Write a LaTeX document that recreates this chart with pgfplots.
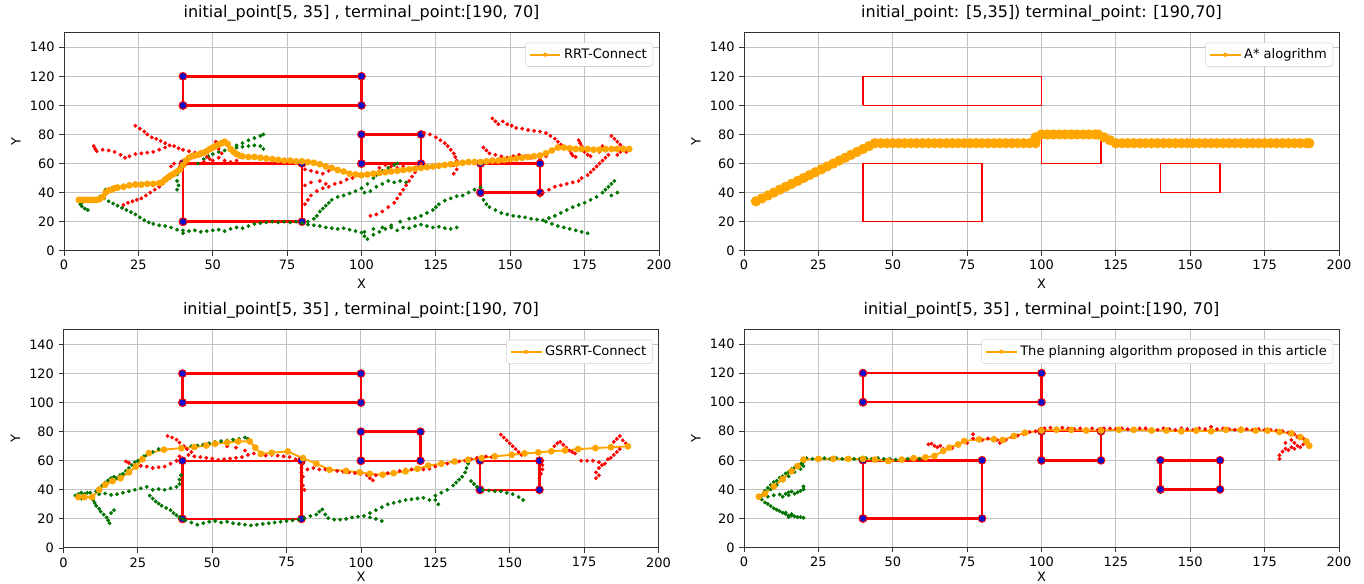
\documentclass[border=0pt]{standalone}
\usepackage{fontspec}
\setmainfont{DejaVu Sans}
\usepackage{pgfplots}
\pgfplotsset{compat=1.18}
\definecolor{mporange}{rgb}{1,0.647,0}
\definecolor{mpgreen}{rgb}{0,0.45,0}
\definecolor{mpblue}{rgb}{0.05,0.05,0.8}
\definecolor{gridgray}{rgb}{0.76,0.76,0.76}
\pgfplotsset{
 panel/.style={
  scale only axis, width=446.25pt, height=163.5pt,
  anchor=south west,
  xmin=0,xmax=200,ymin=0,ymax=150,
  xtick={0,25,...,200}, ytick={0,20,...,140},
  tick pos=left, tick align=outside,
  major tick length=3.6pt,
  tick style={black!80, line width=0.6pt},
  grid=major, major grid style={gridgray, line width=0.75pt},
  axis line style={black!80, line width=0.75pt},
  tick label style={font=\fontsize{9.7}{11}\selectfont},
  label style={font=\fontsize{9.7}{11}\selectfont},
  xlabel=X, ylabel=Y,
  title style={font=\fontsize{12}{14}\selectfont, yshift=-1pt},
  /pgf/number format/assume math mode=true,
  legend style={at={(0.99,0.955)}, anchor=north east, draw=gray!35, rounded corners=2pt, fill=white, font=\fontsize{9.8}{11}\selectfont, inner sep=2.5pt},
  legend cell align=left,
  legend image code/.code={\draw[mporange, line width=1.4pt, mark=none] (0pt,0pt) -- (23pt,0pt); \path[fill=mporange, draw=none] (11.5pt,0pt) circle[radius=1.6pt];},
 },
 bottomrow/.style={xlabel style={yshift=3pt}},
 obst/.style={red, line width=1.8pt, mark=*, mark size=2.9pt, mark options={fill=mpblue, draw=red, line width=0.7pt}, forget plot},
 obstA/.style={red, line width=1.1pt, forget plot},
 rdots/.style={only marks, mark=*, mark size=1.25pt, red, forget plot},
 gdots/.style={only marks, mark=*, mark size=1.25pt, mpgreen, forget plot},
}
\newcommand{\obstacles}{%
 \addplot[obst] coordinates {(40,100)(100,100)(100,120)(40,120)(40,100)};
 \addplot[obst] coordinates {(40,20)(80,20)(80,60)(40,60)(40,20)};
 \addplot[obst] coordinates {(100,60)(120,60)(120,80)(100,80)(100,60)};
 \addplot[obst] coordinates {(140,40)(160,40)(160,60)(140,60)(140,40)};
}
\begin{document}
\begin{tikzpicture}
\path (0,0);
% ---------------- top-left: RRT-Connect
\begin{axis}[panel, at={(48pt,249.2pt)}, title={initial\_point[5, 35] , terminal\_point:[190, 70]}]
\obstacles
\addplot[gdots] coordinates {
(5,34)(5.5,32)(6,30.5)(7,29)(8,28)(6,33)
(12,37)(13.5,36)(15,34)(16.5,32.5)(18,31)(19.5,29.5)(21,28)(22.5,26.5)(24,25)(25.5,23)(27,21)(28.5,19.5)(30,18.5)(32,17.5)(34,17)(36,16)(38,14.5)(40,12)(40,14)(42,13.5)(44,14)(46,13)(48,13.5)(50,14)(52,14.5)(54,13.5)(56,15)(58,16)(60,15.5)(62,17)(64,18.5)(66,19)(68,19.5)(70,20)(72,19.5)(74,20)(76,19.5)(78,20)(80,19)(82,18)(84,17.5)(86,17)(88,16)(90,15.5)(92,15)(94,15.5)(96,14.5)(98,13.5)(100,12.5)(101,10)(102,8)(104,11)(106,13)(108,15)(110,16)(112,14)(114,16)(116,15.5)(118,17)(120,18)(122,17)(124,16)(126,16.5)(128,15.5)(130,15)(132,16)
(14,42)(16,43)(18,44)(20,45)(22,45.5)(24,46.5)(26,46)(28,46)(30,46)(32,47)(34,49)(36,51)(38,52.5)(38,48)(38.5,45)(38,42)
(45,60)(47,63)(48.5,65)(50,66.5)(52,68)(54,69)(56,70.5)(58,72.5)(60,74)(62,76)(64,77.5)(66,79)(67,80)(58,71)(60,71.5)(62,72)(64,72.5)(66,72)(67,70)
(82,20)(84,22)(85,24)(86,27)(87,29)(88,31)(89,33)(90,35)(92,37)(94,38)(96,39.5)(98,41)(100,43)(102,46)(104,50)(105,52)(107,55)(109,57)(111,59)(112,60)(101,40)(103,41)(105,44)(107,46)(109,48)(111,47)(113,48)(115,47)
(101,13)(104,15)(107,16)(110,17.5)(113,20)(116,22)(118,22.5)(120,24)(122,26)(124,28)(125,30)(126,32)(128,34.5)(130,36)(132,37.5)(134,38)(136,40)(138,42)(140,43.5)
(141,35)(142,32)(143,30)(145,28)(147,26)(149,25)(151,24)(153,23.5)(155,23)(157,22)(159,21.5)(161,21)(163,22.5)(165,24)(167,26)(169,28)(171,30)(173,31.5)(175,33)(177,35)(179,37)(181,40)(182,42)(183,44)(184,46)(185,48)(186,40)(184,38)
(162,20)(164,18.5)(166,17)(168,16)(170,15)(172,14)(174,13)(176,12)
};
\addplot[rdots] coordinates {
(24,86)(25.5,84)(27,82)(28,80)(29.5,78)(31,77)(32.5,75.5)(34,74)(35.5,72.5)(37,72)(38.5,70.5)(40,69.5)(42,68.5)(44,67.5)(46,66)(48,64.5)(49,63)
(47,61)(50,62)(52,64)(54,62)(56,61)(58,62)(51,75)(52,73)(52,70)(53,67)
(10,72)(10.5,70)(11,68.5)(13,69.5)(15,69)(17,68)(19,66)(20.5,64)(22,65)(24,66.5)(26,67)(28,67.5)(30,68)(32,69.5)(34,71)
(39,58)(38,55)(37,53)(35.5,51)(34,48)(33,46)(32,44)(30.5,42)(29,40)(27.5,38)(26,36)(24.5,35)(23,34)(21.5,33)(20,31.5)(36,58)(37,60)
(81,32)(82,35)(83,38)(85,41)(87,43)(89,44)(91,46)(93,47)(95,49)(97,50)(99,52)(81,45)(83,47)(86,48)(88,46)
(81,56)(83,55)(85,54)(87,53)(89,55)
(120,60)(119,57)(118,54)(117,51)(116,48)(115,45)(114,42)(113,39)(112,36)(111,33)(109,30)(107,27)(105,25)(103,24)
(106,57)(108,59)(110,58)(112,57)(114,58)
(121,81)(123,80)(125,78)(126.5,76)(128,74)(129,72)(130,69.5)(131,67)(131.5,64.5)(132,62)(131,59)(132,56)(131,53)
(144,91)(145,89)(146,87)(147.5,89)(149,87)(150.5,86)(152,84.5)(154,84)(156,83)(158,82.5)(160,82)(162,81)(163.5,79)(165,77)(166,75)(167,73)(168.5,71)(170,69)(170.5,67)(171,65.5)(172,64.5)
(173,76)(173.5,74)(174,72)(174.5,70)(175,68)(176,66)(177,65)
(141,71)(142,69)(143,67)(145,66)(147,65)(149,64)(151,65)(153,66)(155,65)(157,64)(158,66)(160,63)(162,65)
(183,66)(182,64)(181,62)(180,60)(179,58)(178,56)(177,54)(176,52)(174,50)(173,48)(171,47)(169,46)(167,45)(165,44)(163,42)(161,40)(160,38)
(184,79)(185,77)(186,75)(187,73)(188,71)(187,68)(186,66)(189,68)(185,70)(178,70)(180,68)(182,69)(181,72)
};
\addplot[mporange, line width=1.6pt, mark=*, mark size=1.7pt] coordinates {
(5,35)(6,35)(7,35)(8,35)(9,35)(10,35)(11,35)(12,35.5)(13,37)(14,40)(15,41.5)(16,42)(17,43)(18,43.5)(20,44)(22,45)(24,45.5)(26,45.5)(28,46)(30,46)(32,46.5)(33,47)(34,49)(35,50.5)(36,52)(37,53)(38,54.5)(39,56)(40,59)(41,62)(42,64)(43,65)(44,65.5)(45,66)(46,67)(47,67.5)(48,68.5)(49,70)(50,71)(51,72)(52,73)(53,74)(54,75)(55,73.5)(56,70)(57,68)(58,66.5)(59,65.5)(60,65)(62,64.5)(64,64.5)(66,64)(68,63.5)(70,63)(72,62.5)(74,62)(76,62)(78,61.5)(80,61.5)(82,61)(84,60.5)(86,59.5)(88,58)(90,57)(92,55.5)(94,54.5)(96,53)(98,52.5)(100,52)(102,52.5)(104,53)(106,53.5)(108,54)(110,54.5)(112,55)(114,55.5)(116,56)(118,56.5)(120,57)(122,57.5)(124,58)(126,58.5)(128,59)(130,59.5)(132,60)(134,60.5)(136,61)(138,61)(140,61)(142,61.5)(144,62)(146,62)(148,62.5)(150,63)(152,63.5)(154,64)(156,64.5)(158,65)(160,65.5)(162,67)(164,69)(166,71)(168,71)(170,70.5)(172,70)(174,70)(176,70)(178,69.5)(180,69.5)(182,70)(184,70)(186,70)(188,70)(190,70)
};
\addlegendentry{RRT-Connect}
\end{axis}
% ---------------- top-right: A*
\begin{axis}[panel, at={(558pt,249.2pt)}, title={initial\_point: [5,35]) terminal\_point: [190,70]}]
\addplot[obstA] coordinates {(40,100)(100,100)(100,120)(40,120)(40,100)};
\addplot[obstA] coordinates {(40,20)(80,20)(80,60)(40,60)(40,20)};
\addplot[obstA] coordinates {(100,60)(120,60)(120,80)(100,80)(100,60)};
\addplot[obstA] coordinates {(140,40)(160,40)(160,60)(140,60)(140,40)};
\addplot[mporange, line width=4pt, mark=*, mark size=1.7pt] coordinates {
(4,34)(6,36)(8,38)(10,40)(12,42)(14,44)(16,46)(18,48)(20,50)(22,52)(24,54)(26,56)(28,58)(30,60)(32,62)(34,64)(36,66)(38,68)(40,70)(42,72)(44,74)
(46,74)(48,74)(50,74)(52,74)(54,74)(56,74)(58,74)(60,74)(62,74)(64,74)(66,74)(68,74)(70,74)(72,74)(74,74)(76,74)(78,74)(80,74)(82,74)(84,74)(86,74)(88,74)(90,74)(92,74)(94,74)(96,74)(98,74)
(98,76)(98,78)(100,80)(102,80)(104,80)(106,80)(108,80)(110,80)(112,80)(114,80)(116,80)(118,80)(119,80)(121,78)(123,76)(125,74)
(127,74)(129,74)(131,74)(133,74)(135,74)(137,74)(139,74)(141,74)(143,74)(145,74)(147,74)(149,74)(151,74)(153,74)(155,74)(157,74)(159,74)(161,74)(163,74)(165,74)(167,74)(169,74)(171,74)(173,74)(175,74)(177,74)(179,74)(181,74)(183,74)(185,74)(187,74)(189,74)(190,74)
};
\addlegendentry{A* alogrithm}
\end{axis}
% ---------------- bottom-left: GSRRT-Connect
\begin{axis}[panel, bottomrow, at={(47.6pt,26.3pt)}, title={initial\_point[5, 35] , terminal\_point:[190, 70]}]
\obstacles
\addplot[gdots] coordinates {
(4,36)(5,37)(6,38)(7,37)(8,38)(9,38)(6,34)
(10,33)(10.5,31)(11,29)(12,27)(12.5,25)(13.5,23)(14.5,21)(15,19)(15.5,17)(16,24)(17,26)
(11,39)(12,41)(13,43)(14,45)(15,46.5)(16,48)(17,49)(18,48)(19,50)(20,51)(21,53)(22,55)(23,57)(24,59)(25,60)(26,61)(27,63)(28,64)(30,66)(32,68)
(12,37)(14,37.5)(16,36.5)(18,37)(20,38)(22,39)(24,40)(26,41)(28,42)
(30,40)(32,40.5)(34,40)(36,41)(38,42)(39,44)(39,47)(39.5,50)
(29,36)(30,34)(31,32)(32,30.5)(33,29)(34.5,27.5)(36,26)(37,24)(38,22.5)(39,21)(40,20)
(41,19)(43,17.5)(45,16)(47,17)(49,18)(51,18.5)(53,17.5)(55,18)(57,17)(59,16.5)(61,16)(63,15.5)(65,16)(67,16.5)(69,17)(71,17.5)(73,18)(75,18.5)(77,19)(79,19.5)(81,20.5)(83,22)(85,23)(86,25)(87,26.5)(88,23)(89,20.5)(91,19.5)(93,19.5)(95,20)(97,21)(99,21.5)(101,22)(103,21)(105,20)(107,18.5)
(103,24)(105,26)(107,28)(109,30)(111,31)(113,32)(115,33)(117,33.5)(119,34)(121,34.5)(123,33)(125,33)(126,30)(125,36)(127,38)(129,40)(131,43)(132,45)(133,47)(134,49)(135,52)(135.5,55)(136,58)(136.5,60)
(137,46)(138,44)(139,42)(141,40)(143,39.5)(145,39)(147,39)(149,38)(151,37)(153,35)(154.5,33)
(43,70)(45,70.5)(47,71)(49,72)(51,73)(53,73.5)(55,74)(57,74.5)(59,75)(61,76)(62,75)
};
\addplot[rdots] coordinates {
(35,77)(36.5,76)(38,74.5)(39,72.5)(40.5,70)(41.5,68)(43,66)(39,63)(38,60)(36,58)(34,56)(32,55.5)(30,55)(28,56)(26,56.5)(24,57)(22,58.5)(21,59.5)
(42,64)(44,63)(46,62.5)(48,62)(50,61.5)(52,60.5)(54,61)(56,61.5)(58,62)(60,62.5)(62,64)(64,65)(66,64)(68,63.5)(70,64)(72,63.5)(74,63)(76,62.5)(78,61)
(55,70)(58,69)(61,67)
(80.5,58)(80,55)(80,52)(80.5,49)(80,46)(80.5,43)(81,40)
(82,54)(84,55)(86,54)(88,54)(90,53.5)(92,53)(94,52.5)(96,52)(98,51.5)(100,51)(102,50)(103,48)(104,46.5)(105,50)(107,51)(109,51.5)(111,52)(113,53)(115,54)(117,54)(119,55)(121,54)(123,54.5)(125,56)(127,57)(129,58)(131,59)(133,59.5)(135,60)(137,61)(139,62)(142,63)(144,62.5)
(147,78)(148,76)(149,74)(150,72)(151,70)(152,68)(153,66)(154,64)
(161,60)(161,57)(161,54)(160.5,51)(160,48)
(165,70)(166,72)(167,73)(168,71)(169,69)(170,67)(171,66)(172,65)
(174,60)(176,60)(178,60)(180,59)(181,57)(180,55)(179,52)(180,50)(179,48)(182,58)(183,61)(184,62)(185,64)(186,66)(187,68)(185,73)(186,75)(187,77)(188,74)(189,72)
};
\addplot[mporange, line width=1.4pt, mark=*, mark size=1.8pt] coordinates {
(5,35)(7,35)(9.6,35)(12,40)(14,43.5)(16.5,46)(19.2,48)(22,52)(24.3,56)(26.5,61)(28.7,65.3)(33.8,67.6)(39.6,68.7)(44,69.4)(48,70.5)(51,71.7)(55,72.5)(58.7,73.3)(62.6,73.3)(64.5,69)(66.4,64.8)(70,65.5)(75.4,66.4)(80.5,61.8)(85,58)(89.4,53.8)(95,53)(99.6,52)(103,51)(107.3,50.4)(111,51.5)(115,52.7)(119,54.5)(122.6,56.6)(127,58)(131.5,59.5)(136,60.7)(140.5,61.8)(145,63)(150.7,64.1)(155,65)(159.6,65.7)(164,66.5)(168.6,67.1)(173,68)(178.8,68.7)(184,69.3)(189.7,69.9)
};
\addlegendentry{GSRRT-Connect}
\end{axis}
% ---------------- bottom-right: proposed
\begin{axis}[panel, bottomrow, at={(558pt,26.6pt)}, title={initial\_point[5, 35] , terminal\_point:[190, 70]}]
\obstacles
\addplot[gdots] coordinates {
(6,36)(7,39)(8,41)(9,43)(10,45)(11,46)(12,48)(13,49)(14,51)(15,52)(16,54)(17,55)(18,56)(19,57)(19.5,58)(20,59)(9,40)(11,43)(13,46)(15,49)(17,52)(19,54)(20,56)
(8,35)(10,36)(12,36.5)(14,37)(15,38)(16,38.5)(17,37)(18,38)(19,39)(20,40)(20,42)(13,35)(15,36)
(6,33)(7,31)(8,30)(9,28.5)(10,27)(11,26)(12,25)(13,24)(14,23)(15,22)(16,22)(17,21.5)(18,21)(19,21)(20,20.5)(14,24)(16,23)(15,21)
(21,61.5)(23,61)(25,61.5)(27,61.5)(29,61)(31,61.5)(33,61)(35,61.5)(37,61)(39,61)(41,61.5)(43,61)(45,61.5)(47,61)(49,61)(51,60.5)(53,61)(55,61)(57,61.5)(59,61)(61,61.5)
};
\addplot[rdots] coordinates {
(62,71)(63,71.5)(64,70)(65,69)(66,70)(67,68)(70,68.5)(72,70)(75,72)(77,78)(77,75)(80,74)(82,75)(85,74)(86,72)(88,74)(90,76)(92,77)(94,78)(96,79.5)(98,80)
(101,82)(103,82.5)(105,82)(107,82.5)(109,82)(111,81.5)(113,82)(115,81.5)(117,82)(119,81)(121,82)(123,82)(125,81.5)(127,82)(129,81.5)(131,81)(133,82)(135,82)(137,81.5)(139,81)(141,82)(143,81.5)(145,81)(147,82)(149,81.5)(151,81)(153,82)(155,81.5)(157,83)(159,81.5)(161,82)(163,81.5)(165,81)(167,82)(169,81.5)(171,81)(173,81.5)(175,81)(177,81)(179,80.5)(181,80)(183,79)(185,78)(186,76)(188,75)
(180,61)(180,63.5)(181,66)(182,68)(183,67)(184,69)(185,68)(186,70)(187,69)(188,71)(185,72)(184,74)(182,72)
};
\addplot[mporange, line width=1.4pt, mark=*, mark size=1.8pt] coordinates {
(5,35)(7,37)(10,42)(13,47)(16,52.5)(18,56)(20,60.5)(25,61)(30,61)(35,61)(40,61)(44,60.5)(48.5,59.5)(53,60.5)(57,61.5)(61,62)(64,63)(67,66.5)(69,68.7)(72,71)(74,73.3)(79,74.4)(84,74.5)(87,74)(90.7,76.7)(94.5,79)(100,80.5)(105,81)(110,81)(115,80.5)(120,80.5)(126,81)(131,81)(137,80.5)(142,80.5)(147,80)(152,80.5)(157,80)(162,81)(167,81)(172,80.5)(176,80.5)(180,79.5)(184,78.5)(187,76)(189,73)(190,70)
};
\addlegendentry{The planning algorithm proposed in this article}
\end{axis}
\pgfresetboundingbox
\useasboundingbox (0,0) rectangle (1023pt,437.25pt);
\end{tikzpicture}
\end{document}
